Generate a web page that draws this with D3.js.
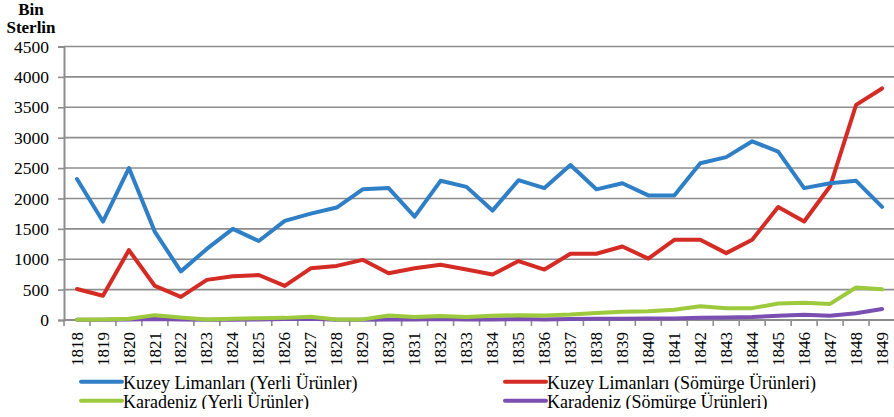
<!DOCTYPE html>
<html>
<head>
<meta charset="utf-8">
<script src="https://cdn.jsdelivr.net/npm/d3@7"></script>
<style>
    body { margin: 0; background: #fff; }
    svg text { font-family: "Liberation Serif", "DejaVu Serif", serif !important; }
</style>
</head>
<body>
<div id="chart"></div>
<script>
// years on the x axis
const years = d3.range(1818, 1850).map(String);

// series values (thousand sterling)
const kuzeyYerli = [2320, 1620, 2500, 1450, 800, 1170, 1500, 1300, 1630, 1750, 1850, 2150, 2170, 1700, 2290, 2190,
    1800, 2300, 2170, 2550, 2150, 2250, 2050, 2050, 2580, 2680, 2940, 2770, 2170, 2250, 2290, 1860];
const kuzeySomurge = [510, 400, 1150, 560, 380, 660, 720, 740, 560, 850, 890, 990, 770, 850, 910, 830,
    750, 970, 830, 1090, 1090, 1210, 1010, 1320, 1320, 1100, 1320, 1860, 1620, 2200, 3540, 3810];
const karadenizYerli = [5, 10, 20, 80, 40, 10, 20, 30, 35, 55, 10, 10, 75, 50, 65, 50,
    70, 80, 75, 90, 115, 135, 145, 170, 225, 195, 195, 270, 285, 265, 535, 505];
const karadenizSomurge = [5, 5, 10, 15, 10, 5, 5, 10, 15, 20, 5, 5, 10, 10, 15, 10,
    10, 15, 10, 15, 20, 20, 25, 25, 35, 40, 50, 70, 85, 70, 110, 180];

const yTicks = [0, 500, 1000, 1500, 2000, 2500, 3000, 3500, 4000, 4500];

const seriesNames = ["Kuzey Limanları (Yerli Ürünler)", "Kuzey Limanları (Sömürge Ürünleri)",
    "Karadeniz (Yerli Ürünler)", "Karadeniz (Sömürge Ürünleri)"];
const seriesColors = ["#2f7fc6", "#d42b24", "#9dca3c", "#7b4fb2"];

const series = [kuzeyYerli, kuzeySomurge, karadenizYerli, karadenizSomurge].map((vals, i) => ({
    name: seriesNames[i],
    color: seriesColors[i],
    values: vals.map((v, j) => ({ year: years[j], value: v }))
}));

const width = 894, height = 417;
const plot = { left: 64, top: 46.5, bottom: 320 };

const svg = d3.select("#chart").append("svg")
    .attr("width", width)
    .attr("height", height);

// Scales
const xScale = d3.scaleBand().domain(years).range([plot.left, plot.left + 32 * 25.97]);
const yScale = d3.scaleLinear().domain([0, 4500]).range([plot.bottom, plot.top]);

// gridlines
svg.append("g")
    .selectAll("line")
    .data(yTicks.filter(d => d > 0))
    .enter()
    .append("line")
    .attr("x1", plot.left)
    .attr("x2", width)
    .attr("y1", d => yScale(d))
    .attr("y2", d => yScale(d))
    .attr("stroke", "#8d8d8d")
    .attr("stroke-width", 1.6);

// y axis
const yAxis = d3.axisLeft(yScale).tickValues(yTicks).tickFormat(d3.format("d")).tickSize(6).tickPadding(9);
const yAxisG = svg.append("g")
    .attr("transform", `translate(${plot.left}, 0)`)
    .call(yAxis);
yAxisG.select(".domain").attr("stroke", "#8d8d8d").attr("stroke-width", 2);
yAxisG.selectAll(".tick line").attr("stroke", "#8d8d8d").attr("stroke-width", 1.6);
yAxisG.selectAll("text")
    .attr("fill", "#000")
    .style("font-size", "17.5px");

// x axis (labels only, ticks at category boundaries drawn below)
const xAxis = d3.axisBottom(xScale).tickSize(0).tickPadding(0);
const xAxisG = svg.append("g")
    .attr("transform", `translate(0, ${plot.bottom})`)
    .call(xAxis);
xAxisG.select(".domain").remove();
xAxisG.selectAll("text")
    .attr("transform", "rotate(-90)")
    .attr("x", -12)
    .attr("y", 0)
    .attr("dy", "0.33em")
    .attr("fill", "#000")
    .style("text-anchor", "end")
    .style("font-size", "17px");

svg.append("line")
    .attr("x1", plot.left)
    .attr("x2", width)
    .attr("y1", plot.bottom)
    .attr("y2", plot.bottom)
    .attr("stroke", "#8d8d8d")
    .attr("stroke-width", 2);

svg.append("g")
    .selectAll("line")
    .data(years.concat(["end"]))
    .enter()
    .append("line")
    .attr("x1", (d, i) => plot.left + i * xScale.step())
    .attr("x2", (d, i) => plot.left + i * xScale.step())
    .attr("y1", plot.bottom)
    .attr("y2", plot.bottom + 6)
    .attr("stroke", "#8d8d8d")
    .attr("stroke-width", 1.6);

// lines
const line = d3.line()
    .x(d => xScale(d.year) + xScale.bandwidth() / 2)
    .y(d => yScale(d.value));

svg.append("g")
    .selectAll("path")
    .data(series.slice().reverse())
    .enter()
    .append("path")
    .attr("d", d => line(d.values))
    .attr("fill", "none")
    .attr("stroke", d => d.color)
    .attr("stroke-width", 4)
    .attr("stroke-linejoin", "round")
    .attr("stroke-linecap", "round");

// y axis title
svg.append("text")
    .attr("x", 31)
    .attr("y", 15)
    .attr("text-anchor", "middle")
    .style("font-weight", "bold")
    .style("font-size", "17px")
    .text("Bin");
svg.append("text")
    .attr("x", 31)
    .attr("y", 33)
    .attr("text-anchor", "middle")
    .style("font-weight", "bold")
    .style("font-size", "17px")
    .text("Sterlin");

// legend
const legendPos = [[81, 381.7], [505, 381.7], [81, 400.7], [505, 400.7]];
const legend = svg.append("g");
series.forEach((s, i) => {
    const [lx, ly] = legendPos[i];
    legend.append("line")
        .attr("x1", lx)
        .attr("x2", lx + 41)
        .attr("y1", ly)
        .attr("y2", ly)
        .attr("stroke", s.color)
        .attr("stroke-width", 4)
        .attr("stroke-linecap", "round");
    legend.append("text")
        .attr("x", lx + 42)
        .attr("y", ly + 6.8)
        .style("font-size", "18px")
        .text(s.name);
});

// bottom of the picture is cut off
svg.append("rect")
    .attr("x", 0)
    .attr("y", 409)
    .attr("width", width)
    .attr("height", height - 409)
    .attr("fill", "#fff");
</script>
</body>
</html>
